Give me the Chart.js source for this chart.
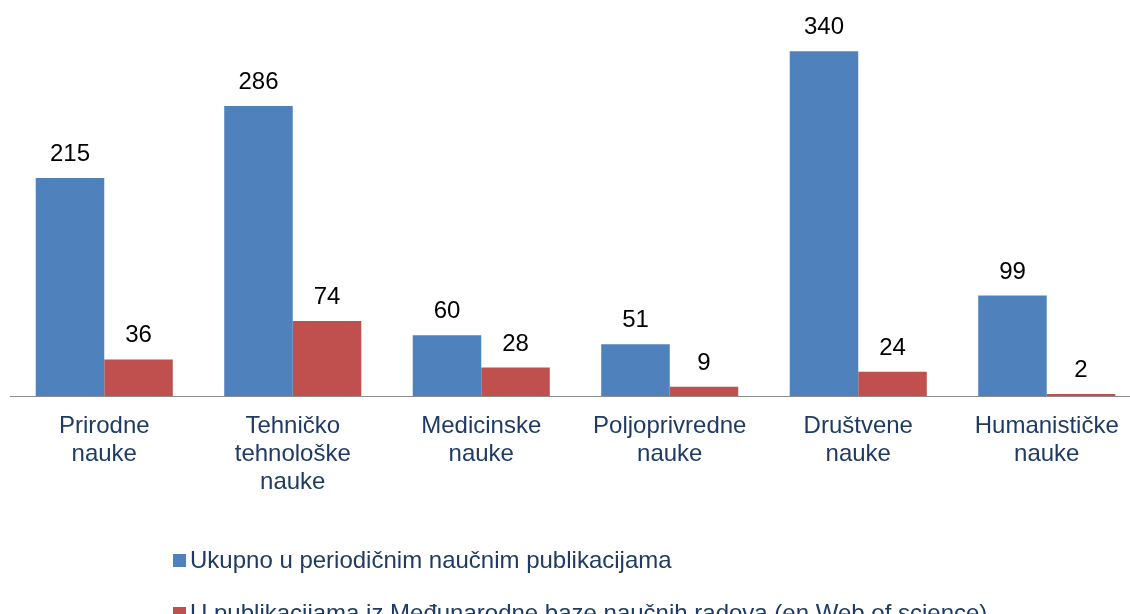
<!DOCTYPE html>
<html>
<head>
<meta charset="utf-8">
<script src="https://cdn.jsdelivr.net/npm/chart.js@4.4.1/dist/chart.umd.min.js"></script>
<style>
  html, body { margin: 0; padding: 0; background: #fff; overflow: hidden; width: 1130px; height: 614px; }
  #wrap { position: absolute; left: 0; top: 0; width: 1152px; height: 614px; }
  .leg { position: absolute; font: 24px "Liberation Sans", Arial, sans-serif; color: #1F3B63; line-height: 28px; white-space: nowrap; }
  .mk { position: absolute; width: 13px; height: 13px; }
</style>
</head>
<body>
<div id="wrap"><canvas id="c"></canvas></div>
<div class="mk" style="left:173px;top:554px;background:#4F81BD"></div>
<div class="leg" id="leg1" style="left:190px;top:546px"></div>
<div class="mk" style="left:173px;top:607px;background:#C0504D"></div>
<div class="leg" id="leg2" style="left:190px;top:599px"></div>
<script>
const categories = [
  ["Prirodne", "nauke"],
  ["Tehničko", "tehnološke", "nauke"],
  ["Medicinske", "nauke"],
  ["Poljoprivredne", "nauke"],
  ["Društvene", "nauke"],
  ["Humanističke", "nauke"]
];
const seriesNames = [
  "Ukupno u periodičnim naučnim publikacijama",
  "U publikacijama iz Međunarodne baze naučnih radova (en.Web of science)"
];
const totalValues = [215, 286, 60, 51, 340, 99];
const wosValues = [36, 74, 28, 9, 24, 2];

document.getElementById('leg1').textContent = seriesNames[0];
document.getElementById('leg2').textContent = seriesNames[1];

const FONT = '"Liberation Sans", Arial, sans-serif';

const labelPlugin = {
  id: 'barLabels',
  afterDatasetsDraw(chart) {
    const ctx = chart.ctx;
    ctx.save();
    ctx.font = '24px ' + FONT;
    ctx.fillStyle = '#000';
    ctx.textAlign = 'center';
    ctx.textBaseline = 'alphabetic';
    chart.data.datasets.forEach((ds, i) => {
      const meta = chart.getDatasetMeta(i);
      meta.data.forEach((bar, j) => {
        ctx.fillText(String(ds.data[j]), bar.x, bar.y - 17);
      });
    });
    ctx.restore();
  }
};

new Chart(document.getElementById('c'), {
  type: 'bar',
  data: {
    labels: categories,
    datasets: [
      { label: seriesNames[0], data: totalValues, backgroundColor: '#4F81BD', borderWidth: 0 },
      { label: seriesNames[1], data: wosValues, backgroundColor: '#C0504D', borderWidth: 0 }
    ]
  },
  options: {
    responsive: true,
    maintainAspectRatio: false,
    animation: false,
    layout: { padding: { left: 10, right: 11, top: 0, bottom: 0 } },
    plugins: { legend: { display: false }, tooltip: { enabled: false } },
    datasets: { bar: { categoryPercentage: 0.727, barPercentage: 1.0 } },
    scales: {
      x: {
        grid: { display: false, drawTicks: false },
        border: { display: true, color: '#8C8C8C', width: 1 },
        ticks: {
          color: '#1F3B63',
          font: { family: FONT, size: 24, lineHeight: 1.17 },
          padding: 16,
          maxRotation: 0,
          autoSkip: false
        },
        afterFit(scale) { scale.height = 614 - 396; }
      },
      y: {
        display: false,
        min: 0,
        max: 390.5
      }
    }
  },
  plugins: [labelPlugin]
});
</script>
</body>
</html>
